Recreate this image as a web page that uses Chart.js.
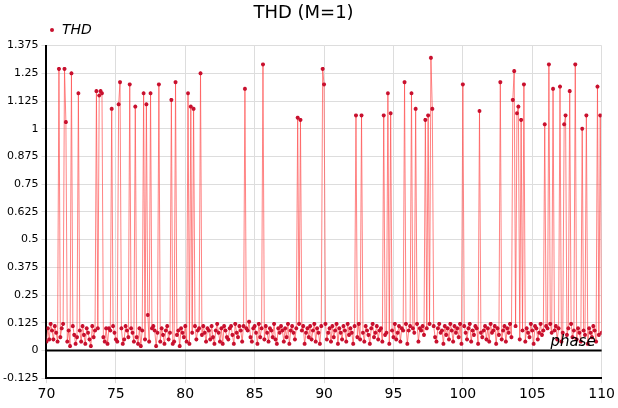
<!DOCTYPE html>
<html><head><meta charset="utf-8">
<script src="https://cdn.jsdelivr.net/npm/chart.js@4/dist/chart.umd.min.js"></script>
<style>body{margin:0;background:#fff}#wrap{width:618px;height:408px}</style>
</head><body><div id="wrap"><canvas id="c"></canvas></div>
<script>
// baseline THD values in hundredths, phase 70.0 .. 110.0 step 0.1
const baseHundredths = [
 4,10,5,12,9,5,11,8,4,3, 6,10,12,3,11,4,9,2,8,11,
 7,3,6,11,9,4,11,7,3,10, 8,5,2,11,6,9,4,10,3,11,
 8,6,4,10,3,10,9,2,11,8, 5,4,9,11,10,3,5,11,9,6,
 2,10,8,4,11,6,3,10,2,9, 11,5,8,16,4,3,10,11,9,2,
 8,11,4,10,7,3,9,11,5,8, 10,3,4,11,7,9,2,10,8,6,
 11,4,9,3,10,8,2,11,5,9, 10,3,7,11,8,4,10,9,5,11,
 6,3,9,12,8,4,10,3,11,9, 6,5,10,11,7,3,12,8,6,11,
 9,4,11,5,10,9,13,6,4,10, 11,8,3,12,6,10,9,5,11,8,
 4,10,9,6,12,5,3,10,8,11, 9,4,10,6,12,3,9,11,8,5,
 10,4,12,7,9,11,3,8,10,6, 11,5,9,12,4,10,8,3,11,7,
 9,12,5,8,10,4,11,6,9,12, 3,10,8,5,11,9,4,12,7,10,
 8,3,11,9,6,12,5,10,8,4, 11,9,7,3,10,12,6,8,11,5,
 9,10,4,12,7,8,11,3,10,9, 6,12,5,8,11,4,10,9,7,12,
 3,9,11,6,10,8,5,12,4,10, 9,11,7,3,10,8,12,5,9,11,
 6,4,10,12,8,9,3,11,7,10, 5,12,9,4,11,8,10,6,12,3,
 9,11,8,5,10,12,4,9,7,11, 10,3,12,8,6,9,11,5,10,4,
 12,8,9,11,3,10,7,12,5,9, 11,4,10,8,12,6,9,3,11,10,
 7,5,12,9,11,4,10,8,6,12, 9,3,11,10,5,8,12,7,9,4,
 11,10,6,12,8,3,9,11,5,10, 12,4,8,9,11,7,10,3,12,6,
 9,11,5,10,8,4,12,9,7,11, 3,10,8,6,11,9,4,10,7,12,
 8
];
// spikes: index into the series and value
const peakIdx = [9,13,14,18,23,36,38,39,40,47,52,53,60,64,70,72,75,81,90,93,102,104,106,111,
 143,156,181,183,199,200,223,227,243,246,248,258,263,266,273,275,277,278,300,312,
 327,336,337,339,340,342,344,359,362,365,370,373,374,377,381,386,389,397,399];
const peakVal = [1.27,1.27,1.03,1.25,1.16,1.17,1.15,1.17,1.16,1.09,1.11,1.21,1.2,1.1,1.16,1.11,1.16,1.2,1.13,1.21,1.16,1.1,1.09,1.25,
 1.18,1.29,1.05,1.04,1.27,1.2,1.06,1.06,1.06,1.16,1.07,1.21,1.16,1.09,1.04,1.06,1.32,1.09,1.2,1.08,
 1.21,1.13,1.26,1.07,1.1,1.04,1.2,1.02,1.29,1.18,1.19,1.02,1.06,1.17,1.29,1.0,1.06,1.19,1.06];
const xTicks = [70,75,80,85,90,95,100,105,110];
const yTicks = ["-0.125","0","0.125","0.25","0.375","0.5","0.625","0.75","0.875","1","1.125","1.25","1.375"];

const thd = baseHundredths.map((v, i) => ({ x: 70 + i / 10, y: v / 100 }));
peakIdx.forEach((i, k) => { if (thd[i]) thd[i].y = peakVal[k]; });

const extras = {
  id: "extras",
  afterDraw(chart) {
    const { ctx, scales: { x, y } } = chart;
    ctx.save();
    ctx.strokeStyle = "#000"; ctx.lineWidth = 2;
    ctx.beginPath(); ctx.moveTo(x.left, y.getPixelForValue(0)); ctx.lineTo(x.right, y.getPixelForValue(0)); ctx.stroke();
    ctx.fillStyle = "#000"; ctx.font = "italic 15px 'DejaVu Sans'";
    ctx.textAlign = "right"; ctx.textBaseline = "bottom";
    ctx.fillText("phase", x.right - 6, y.getPixelForValue(0) - 1);
    // legend
    ctx.fillStyle = "#c8102e";
    ctx.beginPath(); ctx.arc(52, 30, 2, 0, Math.PI * 2); ctx.fill();
    ctx.fillStyle = "#000"; ctx.font = "italic 14px 'DejaVu Sans'";
    ctx.textAlign = "left"; ctx.textBaseline = "middle";
    ctx.fillText("THD", 62, 30);
    ctx.restore();
  }
};

new Chart(document.getElementById("c"), {
  type: "line",
  plugins: [extras],
  data: { datasets: [{
    label: "THD", data: thd,
    borderColor: "rgba(255,80,80,0.7)", borderWidth: 1,
    pointStyle: "star", pointRadius: 2, pointBorderWidth: 1.2,
    pointBorderColor: "#c8102e", pointBackgroundColor: "#c8102e", tension: 0
  }] },
  options: {
    responsive: true, maintainAspectRatio: false, animation: false,
    layout: { padding: { right: 11, top: 0, bottom: 2 } },
    plugins: {
      title: { display: true, text: "THD (M=1)", color: "#000", font: { size: 18, family: "DejaVu Sans", weight: "normal" }, padding: { top: 3, bottom: 21 } },
      legend: { display: false },
      tooltip: { enabled: false }
    },
    scales: {
      x: { type: "linear", min: 70, max: 110,
        afterBuildTicks: s => { s.ticks = xTicks.map(v => ({ value: v })); },
        grid: { color: "#ddd", drawTicks: true, tickLength: 5 },
        border: { color: "#000", width: 2 },
        ticks: { color: "#000", font: { size: 14, family: "DejaVu Sans" }, maxRotation: 0 } },
      y: { min: -0.125, max: 1.375,
        afterBuildTicks: s => { s.ticks = yTicks.map(v => ({ value: parseFloat(v) })); },
        grid: { color: "#ddd", tickLength: 5 },
        border: { color: "#000", width: 2 },
        ticks: { color: "#000", font: { size: 11, family: "DejaVu Sans" }, callback: (v) => yTicks.find(t => parseFloat(t) === v) || v } }
    }
  }
});
</script></body></html>
